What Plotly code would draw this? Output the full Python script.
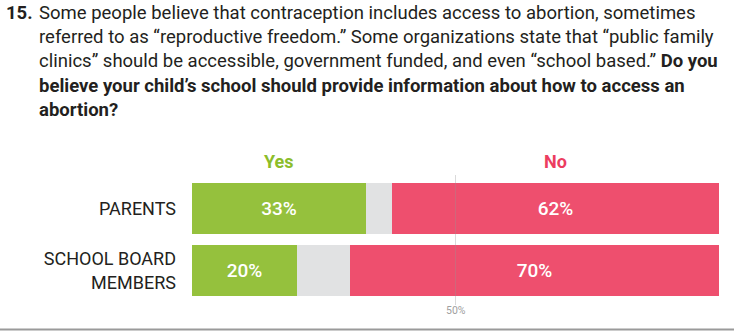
import plotly.graph_objects as go

categories = ["PARENTS", "SCHOOL BOARD<br>MEMBERS"]
yes_vals = [33, 20]
other_vals = [5, 10]
no_vals = [62, 70]
header_labels = ["Yes", "No"]
ref_tick = 50

title_lines = [
    "Some people believe that contraception includes access to abortion, sometimes",
    "referred to as “reproductive freedom.” Some organizations state that “public family",
    "clinics” should be accessible, government funded, and even “school based.” <b>Do you</b>",
    "<b>believe your child’s school should provide information about how to access an</b>",
    "<b>abortion?</b>",
]

W, H = 734, 331
L, R, T, B = 192, 15, 177, 29
PW, PH = W - L - R, H - T - B

def px(x):
    return (x - L) / PW

def py(y):
    return (H - B - y) / PH

GREEN = "#95C13D"
GREY = "#E1E2E3"
RED = "#EE4F6E"
FONT = "Roboto"

fig = go.Figure()
fig.add_trace(go.Bar(y=categories, x=yes_vals, orientation="h", marker=dict(color=GREEN, line=dict(width=0)),
                     text=[f"{v}%" for v in yes_vals], textposition="inside", insidetextanchor="middle",
                     textfont=dict(color="white", size=19, family=FONT, weight=500), width=0.82, name="Yes"))
fig.add_trace(go.Bar(y=categories, x=other_vals, orientation="h", marker=dict(color=GREY, line=dict(width=0)),
                     width=0.82, name="Other", hoverinfo="skip"))
fig.add_trace(go.Bar(y=categories, x=no_vals, orientation="h", marker=dict(color=RED, line=dict(width=0)),
                     text=[f"{v}%" for v in no_vals], textposition="inside", insidetextanchor="middle",
                     textfont=dict(color="white", size=19, family=FONT, weight=500), width=0.82, name="No"))

annotations = []
# title
annotations.append(dict(x=px(4), y=py(13), xref="paper", yref="paper", text="<b>15.</b>", showarrow=False,
                        xanchor="left", yanchor="middle", font=dict(family=FONT, size=18.5, color="#231F20")))
for i, line in enumerate(title_lines):
    annotations.append(dict(x=px(37), y=py(13 + 24.2 * i), xref="paper", yref="paper", text=line, showarrow=False,
                            xanchor="left", yanchor="middle", font=dict(family=FONT, size=18.5, color="#231F20")))
# headers
annotations.append(dict(x=yes_vals[0] / 2, y=py(161), xref="x", yref="paper", text=f"<b>{header_labels[0]}</b>",
                        showarrow=False, xanchor="center", yanchor="middle",
                        font=dict(family=FONT, size=18, color="#8CBD2A")))
annotations.append(dict(x=yes_vals[0] + other_vals[0] + no_vals[0] / 2, y=py(161), xref="x", yref="paper",
                        text=f"<b>{header_labels[1]}</b>", showarrow=False, xanchor="center", yanchor="middle",
                        font=dict(family=FONT, size=18, color="#EC3D5F")))
# 50% label
annotations.append(dict(x=ref_tick, y=py(310), xref="x", yref="paper", text=f"{ref_tick}%", showarrow=False,
                        xanchor="center", yanchor="middle", font=dict(family=FONT, size=10.5, color="#A0A0A0")))

shapes = [
    dict(type="line", xref="x", yref="paper", x0=ref_tick, x1=ref_tick, y0=py(305), y1=py(175),
         line=dict(color="rgba(150,150,150,0.35)", width=1), layer="above"),
    dict(type="line", xref="paper", yref="paper", x0=px(0), x1=px(W), y0=py(329.5), y1=py(329.5),
         line=dict(color="#9A9A9A", width=2)),
]

fig.update_layout(
    width=W, height=H, margin=dict(l=L, r=R, t=T, b=B), barmode="stack", showlegend=False,
    plot_bgcolor="white", paper_bgcolor="white", bargap=0,
    xaxis=dict(range=[0, 100], showgrid=False, zeroline=False, showticklabels=False, fixedrange=True),
    yaxis=dict(range=[1.5, -0.5], showgrid=False, zeroline=False, ticks="", ticklabelstandoff=15,
               tickfont=dict(family=FONT, size=18, color="#231F20")),
    annotations=annotations, shapes=shapes, uniformtext=dict(mode=False),
)

fig.write_html("out.html")
